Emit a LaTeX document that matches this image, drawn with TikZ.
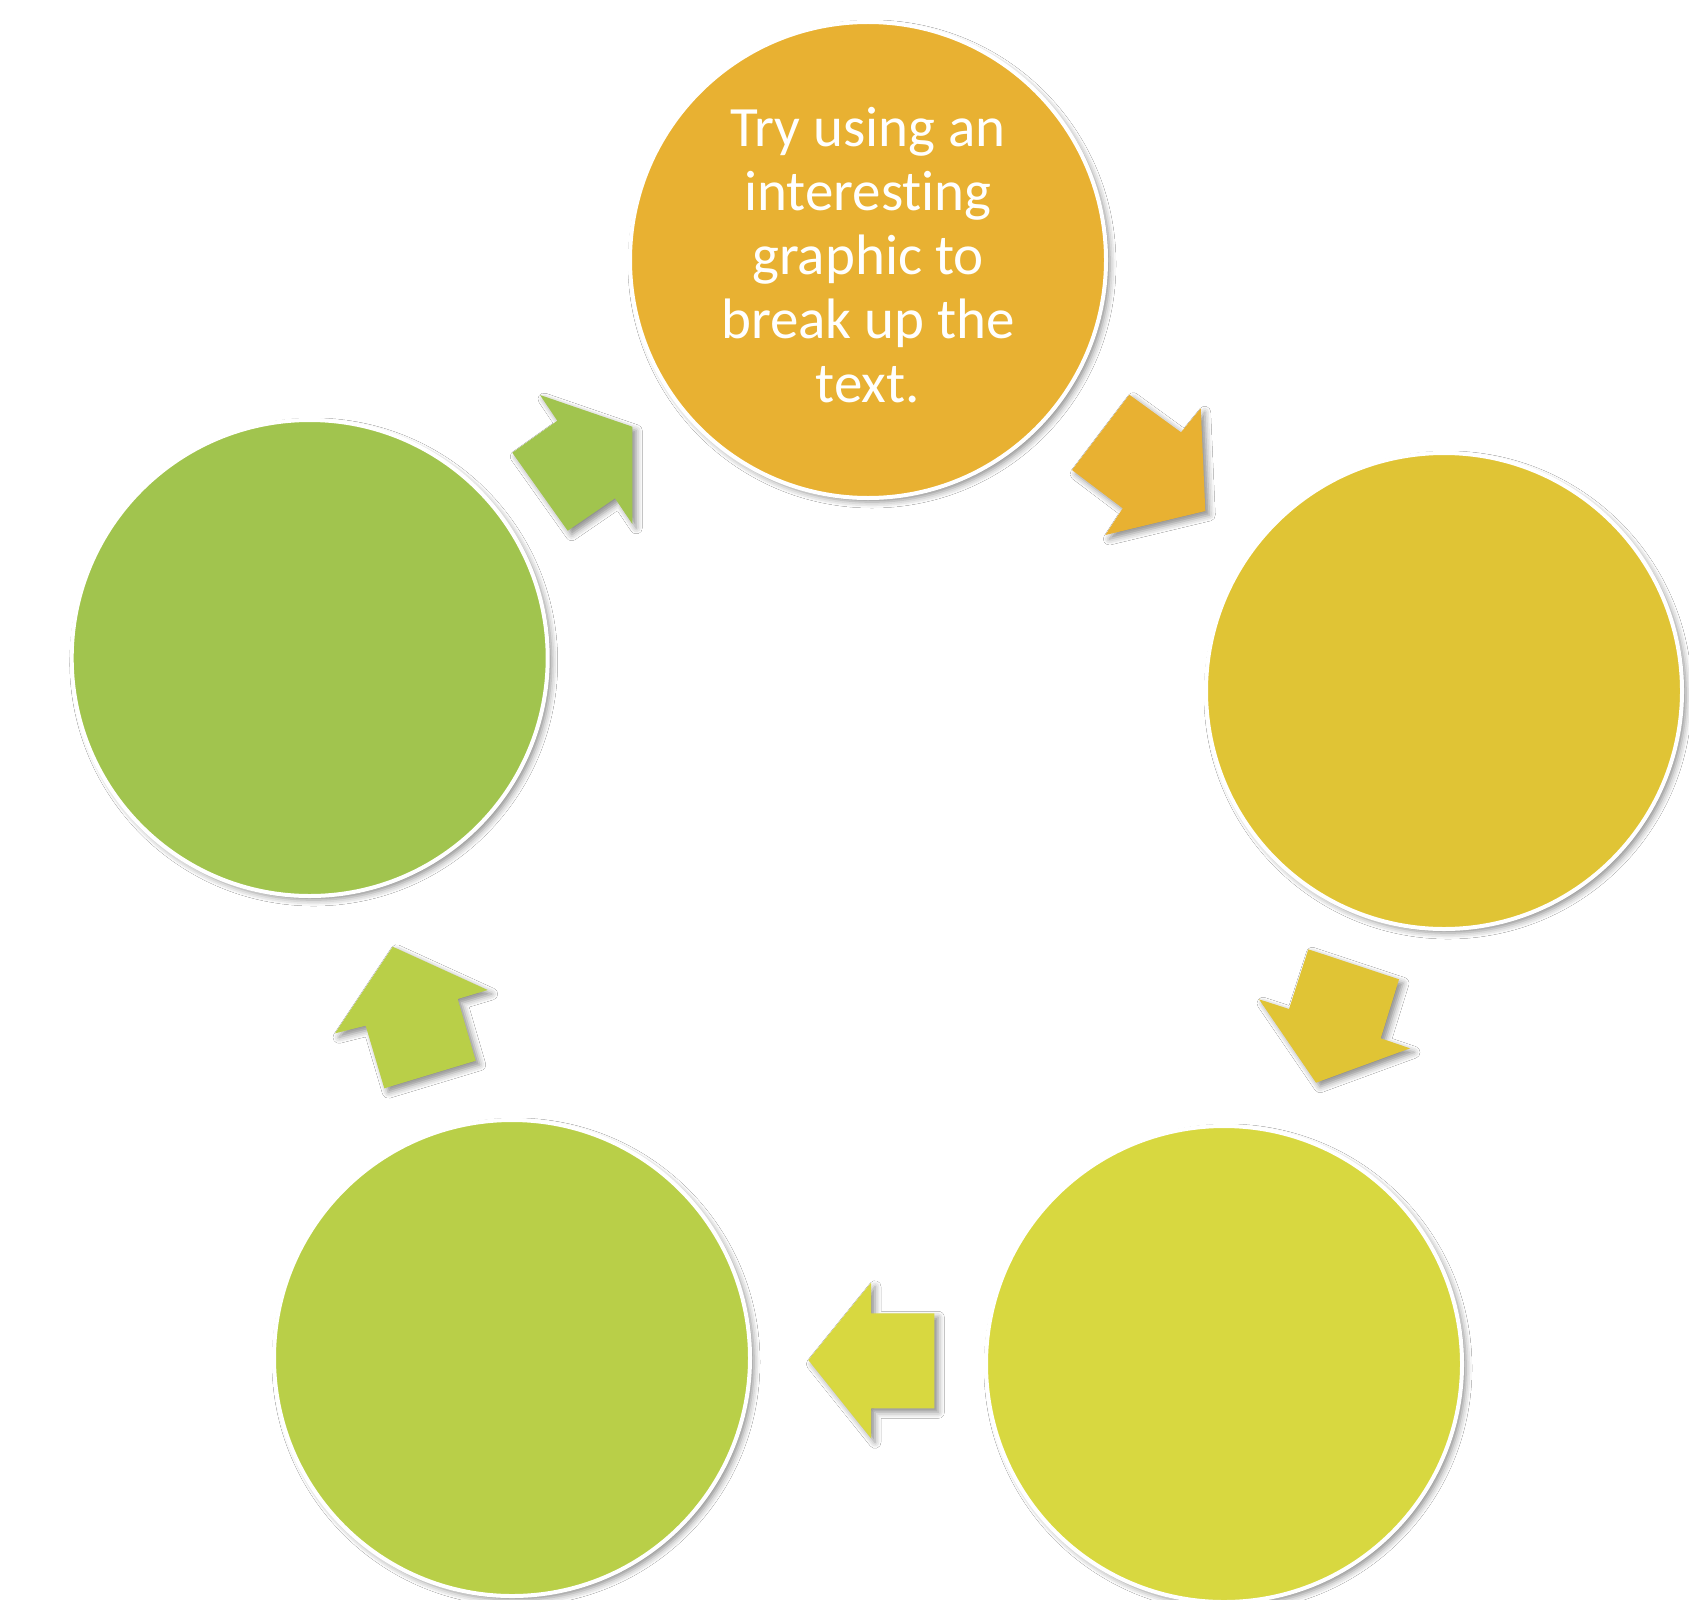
\documentclass[tikz,border=0pt]{standalone}
\usepackage{fontspec}
\setmainfont{Carlito}[Ligatures=NoCommon]
\usetikzlibrary{shadows.blur}
\definecolor{cA}{HTML}{E8B132}
\definecolor{cB}{HTML}{E0C435}
\definecolor{cC}{HTML}{D8D840}
\definecolor{cD}{HTML}{B9CF48}
\definecolor{cE}{HTML}{A1C44E}
\begin{document}
\begin{tikzpicture}[x=1pt,y=-1pt,
  softshadow/.style={blur shadow={shadow xshift=4pt, shadow yshift=-4pt, shadow blur radius=6pt, shadow opacity=45}},
  stage/.style={circle, inner sep=0pt, minimum size=476pt, draw=white, line width=4pt, softshadow},
  blockarrow/.style={softshadow}]
\useasboundingbox (0,0) rectangle (1689,1600);
\fill[white] (0,0) rectangle (1689,1600);
% circles
\node[stage, fill=cA] (s1) at (868,260) {};
\node[stage, fill=cB] (s2) at (1444,691) {};
\node[stage, fill=cC] (s3) at (1224,1364) {};
\node[stage, fill=cD] (s4) at (512,1358) {};
\node[stage, fill=cE] (s5) at (309.7,658) {};
% text
\node[font=\fontsize{57}{64}\selectfont, text=white, align=center, inner sep=0pt] (t1) at (868,255)
  {Try using an\\interesting\\graphic to\\break up the\\text.};
% arrows
\fill[cA, blockarrow] (1129.3,394.7) -- (1181,432.3) -- (1200.7,408.3) -- (1205.3,511) -- (1105.3,535) -- (1122.7,508.3) -- (1072,470) -- cycle;
\fill[cB, blockarrow] (1308.3,949.3) -- (1399,979.3) -- (1380.7,1038.3) -- (1410,1048.3) -- (1316,1082.7) -- (1259,999.3) -- (1289,1009) -- cycle;
\fill[cC, blockarrow] (871,1282.7) -- (871,1313.3) -- (934.3,1313.3) -- (934.3,1408.3) -- (871,1408.3) -- (871,1438.3) -- (808.3,1360) -- cycle;
\fill[cD, blockarrow] (392.7,946.7) -- (487.7,990) -- (457.7,999) -- (475.7,1060.7) -- (384.3,1088.3) -- (365.7,1025.7) -- (335,1033.3) -- cycle;
\fill[cE, blockarrow] (540,395) -- (557.3,420.7) -- (512.3,452.7) -- (567.7,530.7) -- (615,498.3) -- (632.3,524) -- (632.3,426.7) -- cycle;
\end{tikzpicture}
\end{document}
